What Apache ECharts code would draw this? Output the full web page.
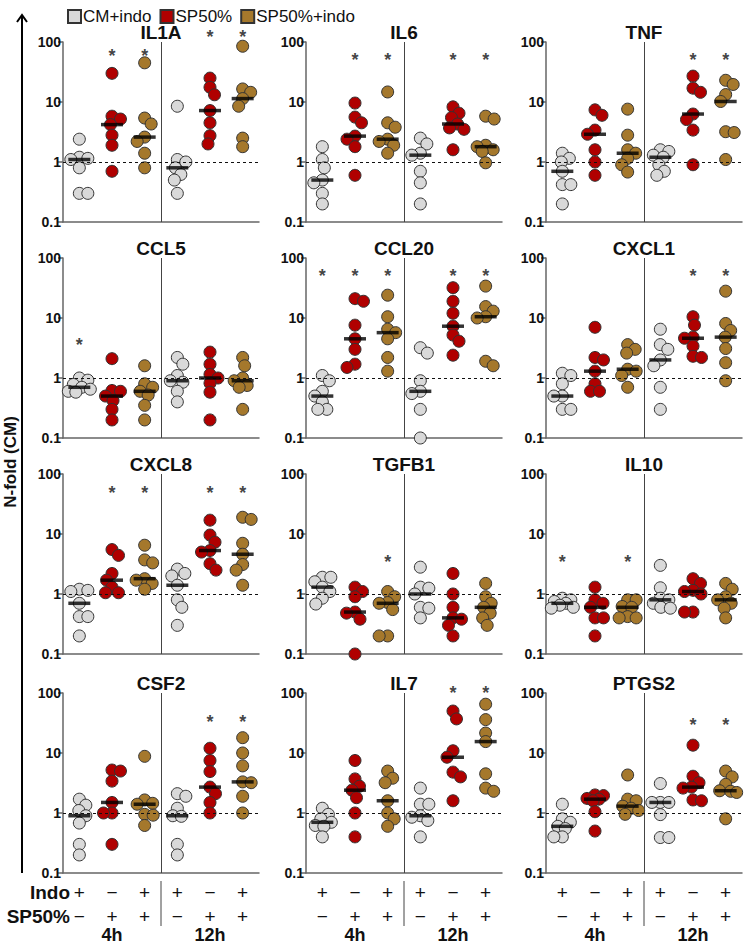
<!DOCTYPE html>
<html><head><meta charset="utf-8">
<script src="https://cdn.jsdelivr.net/npm/echarts@6/dist/echarts.min.js"></script>
<style>html,body{margin:0;padding:0;background:#fff}#c{width:744px;height:946px}</style>
</head><body><div id="c"></div>
<script>
// ---------------- DATA ----------------
const genes = ['IL1A','IL6','TNF','CCL5','CCL20','CXCL1','CXCL8','TGFB1','IL10','CSF2','IL7','PTGS2'];
const groupNames = ['CM+indo','SP50%','SP50%+indo'];
const timeLabels = ['4h','12h'];
const indoSigns = ['+','−','+','+','−','+'];
const spSigns = ['−','+','+','−','+','+'];
const yTickLabels = ['0.1','1','10','100'];
// each gene: [CM+indo 4h, SP50% 4h, SP50%+indo 4h, CM+indo 12h, SP50% 12h, SP50%+indo 12h]
const IL1A = [[2.4,1.2,1.15,1.1,0.8,0.3,0.3],[30,5.8,5.2,4.2,2.8,1.9,0.7],[45,5.4,4.3,2.6,2.2,1.4,0.8],[8.5,1.1,1.0,0.8,0.62,0.5,0.3],[25,17.6,13.2,7.2,4.5,2.75,2.0],[85,16.5,14.5,11.4,8.5,2.5,1.8]];
const IL6 = [[1.8,1.1,0.8,0.5,0.45,0.3,0.2],[9.6,5.6,4.5,2.7,2.4,1.8,0.6],[14.7,4.5,3.8,2.4,2.2,1.9,1.4],[2.5,2.0,1.4,1.3,0.7,0.45,0.2],[8.3,6.5,5.5,4.3,3.7,3.5,1.6],[5.8,5.2,1.9,1.8,1.6,1.5,0.97]];
const TNF = [[1.4,1.15,1.0,0.7,0.42,0.42,0.2],[7.4,6.0,3.4,2.9,1.6,1.0,0.6],[7.6,2.8,1.6,1.4,1.15,0.9,0.68],[1.6,1.5,1.3,1.2,0.9,0.7,0.6],[27,17,14.5,6.3,5.1,3.4,0.9],[23,19.6,13.3,10.2,3.2,3.1,1.1]];
const CCL5 = [[1.0,0.92,0.78,0.7,0.65,0.6,0.58],[2.1,0.62,0.6,0.5,0.42,0.3,0.2],[1.6,0.8,0.7,0.6,0.52,0.35,0.2],[2.2,1.7,1.1,0.9,0.85,0.6,0.4],[2.7,1.7,1.15,1.0,0.82,0.58,0.2],[2.2,1.6,1.0,0.9,0.75,0.7,0.3]];
const CCL20 = [[1.1,0.9,0.6,0.5,0.4,0.3,0.3],[21,19,7.6,4.5,3.0,1.7,1.5],[24,10.5,6.5,5.7,4.5,2.2,1.3],[3.2,2.6,0.9,0.6,0.55,0.3,0.1],[32,19,12,7.3,5.2,4.1,2.4],[34,15.5,13,10.5,10,1.9,1.6]];
const CXCL1 = [[1.2,1.1,0.8,0.5,0.5,0.3,0.3],[7.0,2.2,2.0,1.3,0.8,0.6,0.6],[3.6,3.0,2.6,1.4,1.3,1.1,0.7],[6.5,3.6,3.0,2.0,1.6,0.7,0.3],[10.5,7.6,4.8,4.6,3.4,2.3,2.2],[28,8.1,6.2,4.8,3.1,1.8,0.9]];
const CXCL8 = [[1.2,1.15,1.1,0.7,0.42,0.42,0.2],[5.5,4.4,2.2,1.7,1.3,1.05,1.05],[6.5,3.7,3.3,1.8,1.7,1.5,1.2],[2.6,2.2,2.0,1.4,0.8,0.6,0.3],[17,9.6,7.3,5.3,5.0,3.2,2.5],[19,17.5,7.0,4.6,3.1,2.5,1.4]];
const TGFB1 = [[1.9,1.9,1.6,1.3,1.1,0.85,0.68],[1.3,1.1,0.9,0.5,0.48,0.38,0.1],[1.1,0.9,0.72,0.7,0.55,0.2,0.2],[2.8,1.3,1.25,1.0,0.6,0.58,0.4],[2.2,1.0,0.6,0.4,0.38,0.3,0.2],[1.5,0.9,0.7,0.6,0.48,0.4,0.3]];
const IL10 = [[0.85,0.8,0.75,0.7,0.65,0.6,0.58],[1.3,0.8,0.7,0.6,0.4,0.4,0.2],[0.8,0.8,0.62,0.6,0.42,0.4,0.4],[3.0,1.27,0.85,0.8,0.7,0.6,0.58],[1.8,1.5,1.15,1.1,1.0,0.5,0.5],[1.5,1.2,0.9,0.8,0.7,0.58,0.4]];
const CSF2 = [[1.7,1.35,1.1,0.9,0.68,0.3,0.2],[5.2,5.0,3.4,1.5,1.0,1.0,0.3],[8.8,1.65,1.45,1.4,0.95,0.92,0.62],[2.1,1.9,1.2,0.9,0.88,0.3,0.2],[12,7.5,4.9,2.7,2.1,1.5,1.0],[18,10,6.1,3.3,3.2,1.9,1.0]];
const IL7 = [[1.2,0.95,0.8,0.7,0.62,0.6,0.4],[7.5,3.7,2.8,2.4,1.8,1.0,0.4],[5.0,3.8,3.2,1.6,1.0,0.8,0.6],[2.6,1.4,1.4,0.9,0.85,0.75,0.4],[50,37,10.9,8.5,4.8,4.0,1.6],[65,36,21.5,15.5,4.5,2.6,2.3]];
const PTGS2 = [[1.4,0.8,0.7,0.6,0.55,0.4,0.4],[2.0,1.95,1.75,1.7,1.6,1.05,0.5],[4.3,1.7,1.6,1.3,1.2,1.1,0.95],[3.1,1.5,1.5,1.5,0.94,0.39,0.39],[13.5,4.1,3.2,2.7,2.6,1.65,1.6],[5.0,4.0,3.0,2.35,2.3,2.2,0.8]];
// significance star heights (null = no star)
const starsIL1A = [null,68,68,null,140,140];
const starsIL6 = [null,58,58,null,58,58];
const starsTNF = [null,null,null,null,58,58];
const starsCCL5 = [4.2,null,null,null,null,null];
const starsCCL20 = [58,58,58,null,58,58];
const starsCXCL1 = [null,null,null,null,58,58];
const starsCXCL8 = [null,56,56,null,56,56];
const starsTGFB1 = [null,null,4.0,null,null,null];
const starsIL10 = [4.0,null,4.0,null,null,null];
const starsCSF2 = [null,null,null,null,38,38];
const starsIL7 = [null,null,null,null,116,116];
const starsPTGS2 = [null,null,null,null,34.6,34.6];

const geneData = [IL1A,IL6,TNF,CCL5,CCL20,CXCL1,CXCL8,TGFB1,IL10,CSF2,IL7,PTGS2];
const geneStars = [starsIL1A,starsIL6,starsTNF,starsCCL5,starsCCL20,starsCXCL1,starsCXCL8,starsTGFB1,starsIL10,starsCSF2,starsIL7,starsPTGS2];

// ---------------- LAYOUT / STYLE ----------------
const FONT = '"Liberation Sans", Arial, Helvetica, sans-serif';
const colors = ['#d9d9d9','#b00000','#a5782c'];
const GL = [63,306,546], GT = [42,258,474,693], GW = 196, GH = 180;
const SYM = 12, MINDIST = 8.5, MAXOFF = 11;
const pxPerUnit = GW/6, pxPerDecade = GH/3;

function median(a){const s=a.slice().sort((x,y)=>x-y);const n=s.length;return n%2?s[(n-1)/2]:(s[n/2-1]+s[n/2])/2;}
function swarm(vals){
  const idx = vals.map((v,i)=>i).sort((a,b)=>vals[b]-vals[a]);
  const placed=[]; const off=new Array(vals.length).fill(0);
  let nL=0,nR=0;
  idx.forEach(i=>{
    const y = Math.log10(vals[i])*pxPerDecade;
    let best=null, bestScore=-1, bestC=0;
    for(let o=0;o<=MAXOFF && best===null;o+=0.5){
      const cands = o===0?[0]:(nR<=nL?[o,-o]:[-o,o]);
      for(const c of cands){
        const md = placed.length?Math.min(...placed.map(p=>Math.hypot(p.x-c,p.y-y))):1e9;
        if(md>=MINDIST){best=c;break;}
        if(md>bestScore){bestScore=md;bestC=c;}
      }
    }
    if(best===null)best=bestC;
    if(best>0)nR++; else if(best<0)nL++;
    placed.push({x:best,y}); off[i]=best/pxPerUnit;
  });
  return off;
}

const grids=[], xAxes=[], yAxes=[], series=[], graphics=[];
genes.forEach((gene,i)=>{
  const col=i%3,row=Math.floor(i/3);
  grids.push({left:GL[col],top:GT[row],width:GW,height:GH});
  xAxes.push({type:'value',gridIndex:i,min:0,max:6,
    axisLine:{show:true,onZero:false,lineStyle:{color:'#666',width:1.5}},
    axisTick:{show:false},axisLabel:{show:false},splitLine:{show:false}});
  yAxes.push({type:'log',logBase:10,gridIndex:i,min:0.1,max:100,
    axisLine:{show:true,lineStyle:{color:'#666',width:1.5}},
    axisTick:{show:true,length:5,lineStyle:{color:'#666',width:1.5}},
    minorTick:{show:false},splitLine:{show:false},
    axisLabel:{fontSize:14,fontWeight:'bold',color:'#111',margin:2,fontFamily:FONT,
      formatter:v=>{const k=Math.round(Math.log10(v))+1;return yTickLabels[k]!==undefined?yTickLabels[k]:'';}}});
  const d = geneData[i];
  for(let c=0;c<3;c++){
    const pts=[];
    for(let t=0;t<2;t++){
      const gi=t*3+c; const vals=d[gi]; const off=swarm(vals);
      vals.forEach((v,k)=>pts.push([gi+0.5+off[k], v]));
    }
    const s={type:'scatter',name:groupNames[c],xAxisIndex:i,yAxisIndex:i,data:pts,symbolSize:SYM,clip:false,
      itemStyle:{color:colors[c],borderColor:'#333',borderWidth:1,opacity:1},z:3,silent:true};
    if(c===0){
      s.markLine={silent:true,symbol:'none',label:{show:false},animation:false,
        data:[{xAxis:3,lineStyle:{type:'solid',color:'#444',width:1}},
              {yAxis:1,lineStyle:{type:[3,3],color:'#111',width:1}}]};
    }
    series.push(s);
  }
  series.push({type:'scatter',xAxisIndex:i,yAxisIndex:i,symbol:'rect',symbolSize:[22,3.5],clip:false,silent:true,z:5,
    itemStyle:{color:'#000'},data:d.map((vals,gi)=>[gi+0.5,median(vals)])});
  const st=[]; geneStars[i].forEach((v,gi)=>{if(v!==null)st.push([gi+0.5,v]);});
  series.push({type:'scatter',xAxisIndex:i,yAxisIndex:i,symbolSize:1,clip:false,silent:true,z:6,
    itemStyle:{color:'rgba(0,0,0,0)'},
    label:{show:true,position:'inside',formatter:'*',fontSize:18,fontWeight:'bold',color:'#111',fontFamily:FONT,offset:[0,4]},
    data:st});
  graphics.push({type:'text',x:GL[col]+GW/2,y:GT[row]-10,style:{text:gene,align:'center',verticalAlign:'middle',
    font:'bold 19px '+FONT,fill:'#111'}});
});

// bottom condition labels
for(let col=0;col<3;col++){
  for(let g=0;g<6;g++){
    const x=GL[col]+(g+0.5)*pxPerUnit;
    graphics.push({type:'text',x:x,y:892,style:{text:indoSigns[g],align:'center',verticalAlign:'middle',font:'19px '+FONT,fill:'#111'}});
    graphics.push({type:'text',x:x,y:916,style:{text:spSigns[g],align:'center',verticalAlign:'middle',font:'19px '+FONT,fill:'#111'}});
  }
  graphics.push({type:'text',x:GL[col]+1.5*pxPerUnit,y:935,style:{text:timeLabels[0],align:'center',verticalAlign:'middle',font:'bold 18px '+FONT,fill:'#111'}});
  graphics.push({type:'text',x:GL[col]+4.5*pxPerUnit,y:935,style:{text:timeLabels[1],align:'center',verticalAlign:'middle',font:'bold 18px '+FONT,fill:'#111'}});
  graphics.push({type:'line',shape:{x1:GL[col]+GW/2,y1:881,x2:GL[col]+GW/2,y2:926},style:{stroke:'#444',lineWidth:1}});
}
graphics.push({type:'text',x:70,y:892,style:{text:'Indo',align:'right',verticalAlign:'middle',font:'bold 19px '+FONT,fill:'#111'}});
graphics.push({type:'text',x:70,y:916,style:{text:'SP50%',align:'right',verticalAlign:'middle',font:'bold 19px '+FONT,fill:'#111'}});
// big y arrow + label
graphics.push({type:'line',shape:{x1:22,y1:15,x2:22,y2:873},style:{stroke:'#000',lineWidth:2}});
graphics.push({type:'polyline',shape:{points:[[17,22],[22,15],[27,22]]},style:{stroke:'#000',lineWidth:2,fill:null}});
graphics.push({type:'text',x:10,y:462,rotation:Math.PI/2,style:{text:'N-fold (CM)',align:'center',verticalAlign:'middle',font:'bold 17px '+FONT,fill:'#111'}});

const chart = echarts.init(document.getElementById('c'),null,{renderer:'svg'});
chart.setOption({
  animation:false,
  backgroundColor:'#fff',
  legend:{data:groupNames,left:62,top:3,icon:'rect',itemWidth:13,itemHeight:13,itemGap:8,selectedMode:false,
    textStyle:{fontSize:17,color:'#111',fontFamily:FONT,padding:[0,0,0,-3]}},
  grid:grids,xAxis:xAxes,yAxis:yAxes,series:series,graphic:graphics
});
</script></body></html>
